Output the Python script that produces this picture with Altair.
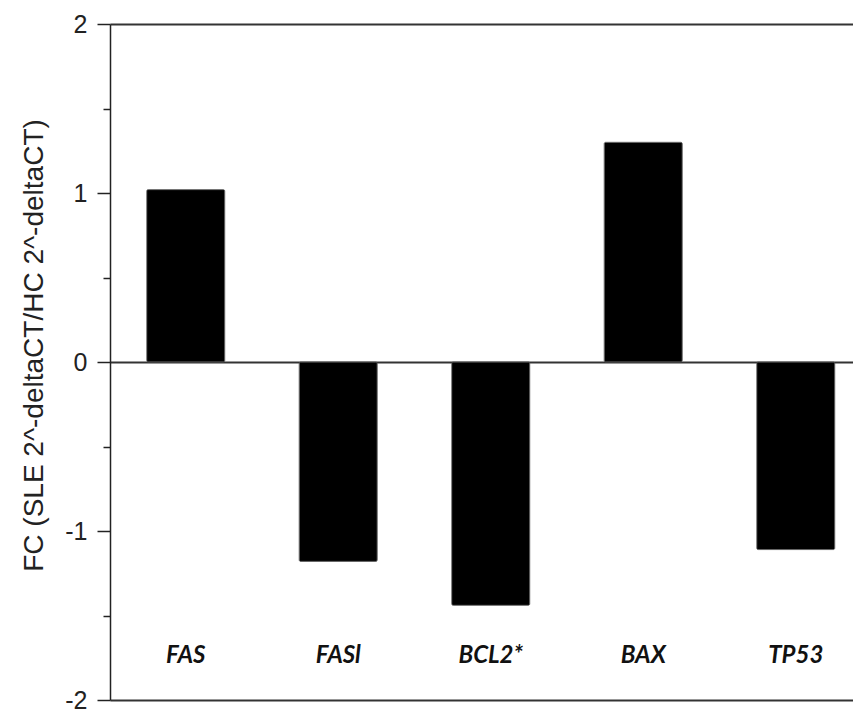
import altair as alt
import pandas as pd

genes = ["FAS", "FASl", "BCL2*", "BAX", "TP53"]
fold_change = [1.02, -1.18, -1.44, 1.30, -1.11]
y_ticks = [-2, -1.5, -1, -0.5, 0, 0.5, 1, 1.5, 2]
y_title = "FC (SLE 2^-deltaCT/HC 2^-deltaCT)"

df = pd.DataFrame({"gene": genes, "fc": fold_change})

chart = alt.Chart(df).mark_bar(color="black", stroke="#555", strokeWidth=0.8, cornerRadius=1.5).encode(
    x=alt.X(
        "gene:N",
        sort=genes,
        scale=alt.Scale(paddingInner=0.488, paddingOuter=0.18, align=0.668),
        axis=alt.Axis(
            title=None, domain=False, ticks=False, tickSize=0, grid=False,
            labelPadding=-38, labelBaseline="alphabetic", labelAngle=0,
            labelFont="Lato", labelFontSize=24, labelFontStyle="italic",
            labelFontWeight="bold", labelColor="#111",
        ),
    ),
    y=alt.Y(
        "fc:Q",
        scale=alt.Scale(domain=[-2, 2], nice=False),
        axis=alt.Axis(
            values=y_ticks,
            title=y_title,
            labelExpr="datum.value % 1 === 0 ? '' + datum.value : ''",
            labelFont="Liberation Sans", labelFontSize=25, labelColor="#222",
            labelPadding=10, labelOverlap=False,
            tickSize={"condition": {"test": "datum.value % 1 === 0", "value": 13}, "value": 7},
            tickColor="#222", tickWidth=1.5,
            domainColor="#222", domainWidth=1.5,
            grid=True, gridColor="#333", gridWidth=1.8,
            gridOpacity={"condition": {"test": "datum.value === 2 || datum.value === 0 || datum.value === -2", "value": 1}, "value": 0},
            titleFont="Liberation Sans", titleFontSize=28, titleFontWeight="normal",
            titleColor="#222", titleAngle=270, titleBaseline="alphabetic",
            titleAlign="center", titleX=-68, titleY=321,
        ),
    ),
).properties(
    width=743,
    height=676,
    autosize=alt.AutoSizeParams(type="none"),
    padding={"left": 102, "top": 16, "right": 0, "bottom": 13},
).configure_view(stroke=None)

chart.save("out.html", embed_options={"renderer": "svg", "actions": False})
